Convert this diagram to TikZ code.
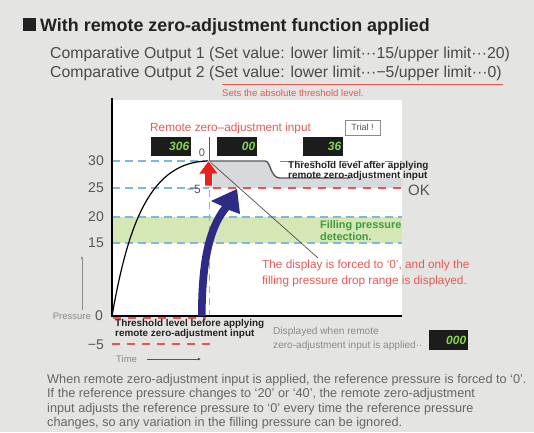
\documentclass[tikz,border=0pt]{standalone}
\usepackage{fontspec}
\setmainfont{Liberation Sans}
\usetikzlibrary{arrows.meta}
\definecolor{bg}{HTML}{E4E4E2}
\definecolor{titleblack}{HTML}{222222}
\definecolor{txtgrey}{HTML}{4A4A4A}
\definecolor{paragrey}{HTML}{666666}
\definecolor{ticktext}{HTML}{555555}
\definecolor{dashblue}{HTML}{7DB8E2}
\definecolor{dashred}{HTML}{E5574F}
\definecolor{redtxt}{HTML}{E55A55}
\definecolor{greenband}{HTML}{D6E7B6}
\definecolor{greentxt}{HTML}{3E9A3E}
\definecolor{greyfill}{HTML}{D7D9DC}
\definecolor{navy}{HTML}{2D2B85}
\definecolor{lcdblack}{HTML}{1C1C1C}
\definecolor{lcdgreen}{HTML}{86D84C}
\definecolor{redarrow}{HTML}{E8201E}
\definecolor{lightlbl}{HTML}{8A8A8A}
\tikzset{
  txt/.style={inner sep=0pt, anchor=base west},
  bluedash/.style={draw=dashblue, line width=1.1pt, dash pattern=on 8pt off 5pt},
  reddash/.style={draw=dashred, line width=1.1pt, dash pattern=on 8pt off 7pt},
  lcd/.style={fill=lcdblack, minimum width=40pt, minimum height=19pt, inner sep=0pt, anchor=north west},
  lcdnum/.style={anchor=east, inner sep=0pt, text=lcdgreen, font=\bfseries\itshape\fontsize{12}{12}\selectfont},
  tick/.style={anchor=east, inner sep=0pt, text=ticktext, font=\fontsize{14}{14}\selectfont},
  thr/.style={txt, text=titleblack, font=\bfseries\fontsize{9.9}{10}\selectfont},
  para/.style={txt, text=paragrey, font=\fontsize{12.7}{14}\selectfont}
}
\begin{document}
\begin{tikzpicture}[x=1pt,y=-1pt]
\useasboundingbox (0,0) rectangle (534,432);
\fill[bg] (0,0) rectangle (534,432);

% header
\node[fill=titleblack, minimum size=13pt, inner sep=0pt, anchor=north west] (sq) at (23,18) {};
\node[txt, text=titleblack, font=\bfseries\fontsize{17.9}{20}\selectfont] (title) at (40,31) {With remote zero-adjustment function applied};
\node[txt, text=txtgrey, font=\fontsize{15.8}{18}\selectfont] (co1) at (50,58) {Comparative Output 1 (Set value: lower limit···15/upper limit···20)};
\node[txt, text=txtgrey, font=\fontsize{15.8}{18}\selectfont] (co2) at (50,77) {Comparative Output 2 (Set value: lower limit···−5/upper limit···0)};
\coordinate (ulA) at (222,84);
\coordinate (ulB) at (503,84);
\draw[dashred, line width=0.8pt] (ulA) -- (ulB);
\node[txt, text=redtxt, font=\fontsize{9.6}{10}\selectfont] (sets) at (222,96) {Sets the absolute threshold level.};

% plot area
\fill[white] (112,100) rectangle (402,316);
\fill[greenband] (112,217) rectangle (402,243);
\coordinate (peak) at (209,161);
\fill[greyfill] (peak) -- (265,161) .. controls (271,161) and (270,178) .. (280,178) -- (402,178) -- (402,188) -- (209,188) -- cycle;

% dashed levels
\draw[bluedash] (112,161) -- (peak);
\draw[bluedash] (112,188) -- (209,188);
\draw[reddash] (280,161.5) -- (402,161.5);
\draw[reddash] (213,188) -- (402,188);
\draw[bluedash] (112,217) -- (402,217);
\draw[bluedash] (112,243) -- (402,243);
\draw[dashblue, line width=1pt, dash pattern=on 7pt off 5pt] (209,190) -- (209,316);

% axes
\draw[black, line width=1.3pt] (112,98) -- (112,316.5);
\draw[black, line width=2pt] (111.4,316) -- (402,316);
\draw[reddash] (113,318) -- (206,318);
\draw[reddash] (112,344) -- (210,344);

% threshold after applying line
\draw[titleblack!75, line width=1.4pt] (peak) -- (265,161) .. controls (271,161) and (270,178) .. (280,178) -- (350,178);

% pressure curve
\draw[black, line width=1.2pt] (112,316) .. controls (128,225) and (150,161) .. (peak);

% vertical marker
\coordinate (vtop) at (209,137);
\draw[ticktext, line width=0.6pt] (vtop) -- (peak);

% leader line to red text
\coordinate (leadend) at (318,258);
\draw[titleblack!80, line width=0.7pt] (peak) -- (leadend);

% red up arrow
\fill[redarrow, draw=white, line width=0.6pt] (204.5,186) -- (204.5,174) -- (198.5,174) -- (208.5,160.5) -- (218.5,174) -- (212.5,174) -- (212.5,186) -- cycle;

% navy curved arrow
\fill[navy] (198,316) .. controls (198,262) and (205,228) .. (222,206)
  -- (211,201) -- (237,189) -- (240,214) -- (229,210)
  .. controls (213,229) and (206,262) .. (205.5,316) -- cycle;

% small labels near peak
\node[anchor=center, inner sep=0pt, text=ticktext, font=\fontsize{11}{11}\selectfont] (zero) at (202,153) {0};
\node[anchor=center, inner sep=0pt, text=ticktext, font=\fontsize{12}{12}\selectfont] (m5) at (194,189) {−5};

% displays
\node[lcd] (d1) at (151,137) {};
\node[lcdnum] (d1t) at ([xshift=-2pt]d1.east) {306};
\node[lcd] (d2) at (217,137) {};
\node[lcdnum] (d2t) at ([xshift=-2pt]d2.east) {00};
\node[lcd] (d3) at (303,137) {};
\node[lcdnum] (d3t) at ([xshift=-2pt]d3.east) {36};
\node[lcd, minimum height=20pt, minimum width=39pt] (d4) at (429,330) {};
\node[lcdnum] (d4t) at ([xshift=-2pt]d4.east) {000};

\node[txt, text=redtxt, font=\fontsize{11.8}{12}\selectfont] (remote) at (150,131) {Remote zero–adjustment input};
\node[draw=lightlbl, fill=white, line width=0.8pt, text=ticktext, font=\fontsize{9}{10}\selectfont, minimum width=35pt, minimum height=15pt, inner sep=1pt] (trial) at (362.5,127.5) {Trial !};

% tick labels
\node[tick] (t30) at (104,161) {30};
\node[tick] (t25) at (104,188) {25};
\node[tick] (t20) at (104,217) {20};
\node[tick] (t15) at (104,243) {15};
\node[tick] (t0) at (103,316) {0};
\node[tick] (tm5) at (104,345) {−5};
\node[anchor=base east, inner sep=0pt, text=lightlbl, font=\fontsize{9.5}{10}\selectfont] (press) at (91,319) {Pressure};
\coordinate (pa) at (82,310);
\coordinate (pb) at (82,256);
\draw[lightlbl, line width=0.7pt, -{Latex[length=3pt,width=3pt]}] (pa) -- (pb);
\node[txt, text=lightlbl, font=\fontsize{9.5}{10}\selectfont] (time) at (116,362) {Time};
\coordinate (ta) at (147,359);
\coordinate (tb) at (201,359);
\draw[ticktext, line width=0.8pt, -{Latex[length=3pt,width=3pt]}] (ta) -- (tb);

% annotations
\node[thr] (after1) at (288,168) {Threshold level after applying};
\node[thr] (after2) at (288,178.5) {remote zero-adjustment input};
\node[anchor=west, inner sep=0pt, text=ticktext, font=\fontsize{15}{15}\selectfont] (ok) at (408,190) {OK};
\node[txt, text=greentxt, font=\bfseries\fontsize{10.9}{11}\selectfont] (fill1) at (320,228) {Filling pressure};
\node[txt, text=greentxt, font=\bfseries\fontsize{10.9}{11}\selectfont] (fill2) at (320,240) {detection.};
\node[txt, text=redtxt, font=\fontsize{11.8}{12}\selectfont] (disp1) at (262,268) {The display is forced to `0', and only the};
\node[txt, text=redtxt, font=\fontsize{11.8}{12}\selectfont] (disp2) at (262,284) {filling pressure drop range is displayed.};
\node[thr] (before1) at (115,326) {Threshold level before applying};
\node[thr] (before2) at (115,336.5) {remote zero-adjustment input};
\node[txt, text=lightlbl, font=\fontsize{10.1}{10}\selectfont] (dw1) at (273,334) {Displayed when remote};
\node[txt, text=lightlbl, font=\fontsize{10.1}{10}\selectfont] (dw2) at (273,348.5) {zero-adjustment input is applied··};

% paragraph
\node[para] (p1) at (47,383) {When remote zero-adjustment input is applied, the reference pressure is forced to `0'.};
\node[para] (p2) at (47,397.5) {If the reference pressure changes to `20' or `40', the remote zero-adjustment};
\node[para] (p3) at (47,412) {input adjusts the reference pressure to `0' every time the reference pressure};
\node[para] (p4) at (47,426.5) {changes, so any variation in the filling pressure can be ignored.};
\end{tikzpicture}
\end{document}
